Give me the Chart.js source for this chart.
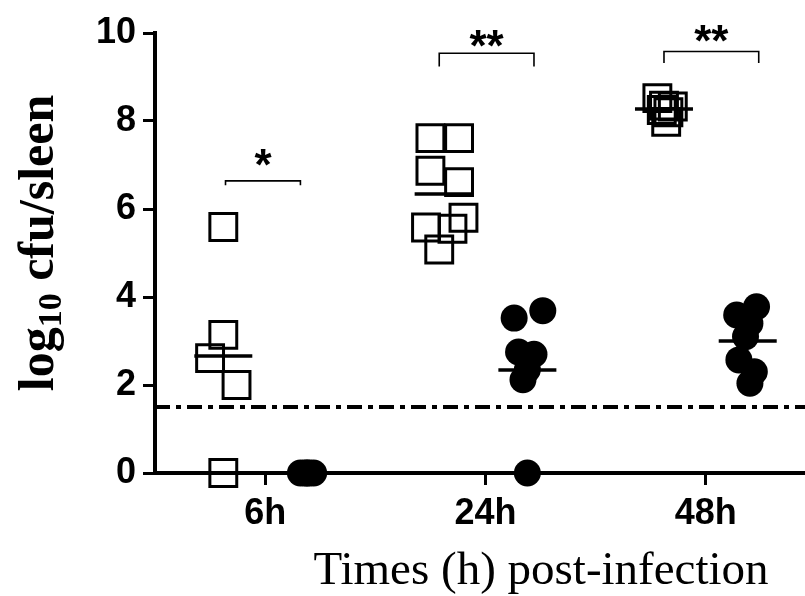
<!DOCTYPE html>
<html>
<head>
<meta charset="utf-8">
<script src="https://cdn.jsdelivr.net/npm/chart.js@4.4.1/dist/chart.umd.min.js"></script>
<style>
  html, body { margin: 0; padding: 0; background: #fff; }
</style>
</head>
<body>
<canvas id="chart" width="805" height="596"></canvas>
<script>
// time points (x = 1, 2, 3 on a linear axis)
const timeLabels = ["6h", "24h", "48h"];
const yTicks = [0, 2, 4, 6, 8, 10];
const detectionLimit = 1.5;

// open squares, one list per time point, plus small horizontal jitter (x units)
const squareVals = [
  [5.59, 3.14, 2.61, 2.00, 0],
  [7.61, 7.61, 6.87, 6.61, 5.58, 5.55, 5.80, 5.08],
  [8.52, 8.33, 7.98, 8.25, 8.35, 8.20]
];
const squareJitter = [
  [-0.19, -0.19, -0.25, -0.13, -0.19],
  [-0.25, -0.12, -0.25, -0.12, -0.27, -0.15, -0.10, -0.21],
  [-0.22, -0.15, -0.18, -0.20, -0.19, -0.17]
];

// filled circles
const circleVals = [
  [0, 0, 0, 0, 0],
  [3.52, 3.69, 2.75, 2.70, 2.35, 2.12, 0],
  [3.78, 3.59, 3.40, 3.10, 2.57, 2.30, 2.04]
];
const circleJitter = [
  [0.16, 0.18, 0.19, 0.20, 0.22],
  [0.13, 0.26, 0.15, 0.22, 0.19, 0.17, 0.19],
  [0.23, 0.14, 0.20, 0.18, 0.15, 0.22, 0.20]
];

// group means (short horizontal bars)
const squareMeans = [2.66, 6.34, 8.27];
const circleMeans = [0, 2.34, 3.00];
const groupOffset = 0.19;

// significance brackets
const bracketStart = [0.82, 1.79, 2.81];
const bracketEnd = [1.16, 2.22, 3.24];
const bracketY = [6.64, 9.54, 9.58];
const bracketDrop = [0.1, 0.3, 0.26];
const starLabels = ["*", "**", "**"];
const starY = [7.18, 9.87, 9.99];

const toPoints = (vals, jit) =>
  vals.flatMap((list, g) => list.map((v, i) => ({ x: g + 1 + jit[g][i], y: v })));

const bracketSets = bracketStart.map((x1, i) => ({
  type: "line",
  data: [
    { x: x1, y: bracketY[i] - bracketDrop[i] },
    { x: x1, y: bracketY[i] },
    { x: bracketEnd[i], y: bracketY[i] },
    { x: bracketEnd[i], y: bracketY[i] - bracketDrop[i] }
  ],
  showLine: true,
  borderColor: "#000",
  borderWidth: 1.6,
  pointRadius: 0,
  clip: false
}));

const textPlugin = {
  id: "texts",
  afterDraw(chart) {
    const { ctx, scales } = chart;
    ctx.save();
    ctx.fillStyle = "#000";

    // stars above brackets
    ctx.font = "bold 44px 'Liberation Sans'";
    ctx.textAlign = "center";
    ctx.textBaseline = "alphabetic";
    starLabels.forEach((s, i) => {
      const cx = scales.x.getPixelForValue((bracketStart[i] + bracketEnd[i]) / 2);
      const cy = scales.y.getPixelForValue(starY[i]);
      const m = ctx.measureText(s);
      ctx.fillText(s, cx, cy + (m.actualBoundingBoxAscent - m.actualBoundingBoxDescent) / 2);
    });

    // x title
    ctx.font = "47px 'Liberation Serif'";
    ctx.fillText("Times (h) post-infection", 541, 584);

    // y title with subscript
    ctx.translate(42, 243);
    ctx.rotate(-Math.PI / 2);
    ctx.textAlign = "left";
    const big = "bold 50px 'Liberation Serif'";
    const small = "bold 34px 'Liberation Serif'";
    ctx.font = big;
    const w1 = ctx.measureText("log").width;
    const w3 = ctx.measureText(" cfu/sleen").width;
    ctx.font = small;
    const w2 = ctx.measureText("10").width;
    let x = -(w1 + w2 + w3) / 2;
    ctx.font = big;
    ctx.fillText("log", x, 11);
    x += w1;
    ctx.font = small;
    ctx.fillText("10", x, 19);
    x += w2;
    ctx.font = big;
    ctx.fillText(" cfu/sleen", x, 11);
    ctx.restore();
  }
};

const tickFont = { family: "'Liberation Sans'", weight: "bold", size: 36 };

new Chart(document.getElementById("chart"), {
  type: "scatter",
  data: {
    datasets: [
      {
        data: toPoints(squareVals, squareJitter),
        pointStyle: "rect",
        pointRadius: 19,
        borderWidth: 3,
        borderColor: "#000",
        backgroundColor: "rgba(0,0,0,0)",
        clip: false
      },
      {
        data: toPoints(circleVals, circleJitter),
        pointStyle: "circle",
        pointRadius: 13.5,
        borderWidth: 0,
        backgroundColor: "#000",
        clip: false
      },
      {
        data: squareMeans.map((v, g) => ({ x: g + 1 - groupOffset, y: v }))
          .concat(circleMeans.map((v, g) => ({ x: g + 1 + groupOffset, y: v }))),
        pointStyle: "line",
        pointRadius: 29,
        borderWidth: 3.5,
        borderColor: "#000",
        clip: false
      },
      {
        type: "line",
        data: [{ x: 0.5, y: detectionLimit }, { x: 3.45, y: detectionLimit }],
        showLine: true,
        borderColor: "#000",
        borderWidth: 4,
        borderDash: [15, 6, 5, 6],
        pointRadius: 0,
        clip: false
      },
      ...bracketSets
    ]
  },
  options: {
    responsive: false,
    animation: false,
    layout: { autoPadding: false, padding: { top: 33, left: 0, right: 0, bottom: 0 } },
    plugins: { legend: { display: false }, tooltip: { enabled: false } },
    scales: {
      x: {
        type: "linear",
        min: 0.5,
        max: 3.45,
        afterBuildTicks: (s) => { s.ticks = timeLabels.map((_, i) => ({ value: i + 1 })); },
        afterFit: (s) => { s.height = 123; s.paddingLeft = 0; s.paddingRight = 0; },
        ticks: {
          callback: (v) => timeLabels[v - 1],
          font: tickFont,
          color: "#000",
          padding: 7,
          maxRotation: 0
        },
        grid: { drawOnChartArea: false, drawTicks: true, tickLength: 12, tickWidth: 3, tickColor: "#000", lineWidth: 3 },
        border: { display: true, width: 4, color: "#000" }
      },
      y: {
        min: 0,
        max: 10,
        afterBuildTicks: (s) => { s.ticks = yTicks.map((v) => ({ value: v })); },
        afterFit: (s) => { s.width = 155; s.paddingTop = 0; s.paddingBottom = 0; },
        ticks: { font: tickFont, color: "#000", padding: 7 },
        grid: { drawOnChartArea: false, drawTicks: true, tickLength: 12, tickWidth: 3, tickColor: "#000", lineWidth: 3 },
        border: { display: true, width: 4, color: "#000" }
      }
    }
  },
  plugins: [textPlugin]
});
</script>
</body>
</html>
